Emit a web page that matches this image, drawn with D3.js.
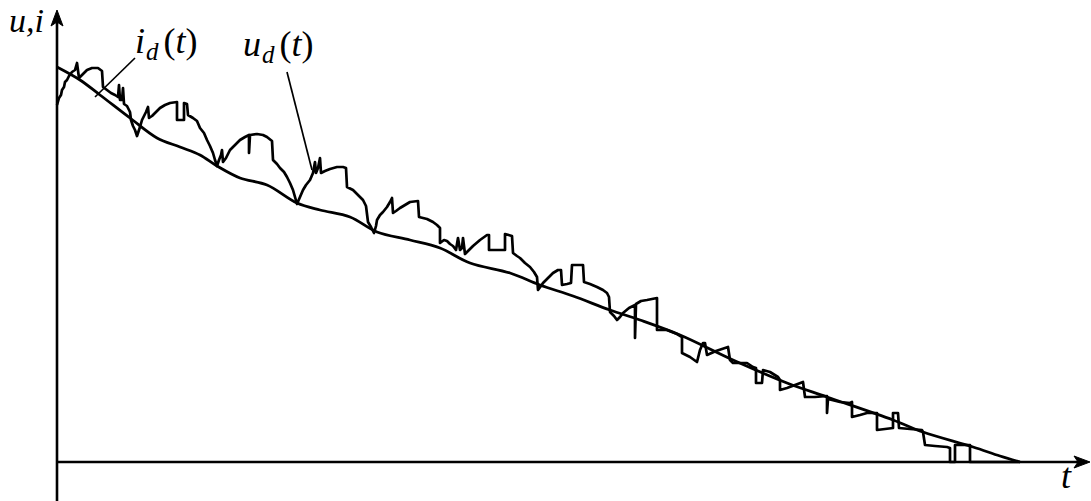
<!DOCTYPE html>
<html><head><meta charset="utf-8">
<script src="https://cdn.jsdelivr.net/npm/d3@7"></script>
<style>html,body{margin:0;padding:0;background:#fff;}svg{display:block;}</style>
</head><body>
<svg id="c" width="1091" height="501"></svg>
<script>
// i_d(t) samples (time units, current units)
const iT = [0,23,43,73,100,123,143,160,183,210,240,263,293,320,353,383,413,453,483,516,553,583,623,676,730,770,836,866,916,943,963];
const iV = [395,382,367,344,324,315,307,296,284,277,259,252,245,230,222,214,199,189,177,166,152,142,127,102,79,65,42,30,15,6,0];
// u_d(t) samples
const uT = [0,2,4,5,7,8,10,12,15,18,20,22,26,30,35,41,45,46,50,54,58,61,62,63,65,66,67,70,73,74,76,78,80,
82,83,85,87,89,91,92,95,99,103,108,113,120,120,127,127,130,131,136,140,143,147,150,153,156,158,160,
162,164,165,166,169,173,178,183,188,192,192,193,200,206,210,215,216,220,223,227,230,233,236,238,240,
243,246,249,253,256,258,259,261,263,264,268,273,280,286,289,290,296,301,306,309,311,314,317,
319,320,323,326,330,333,335,336,339,343,348,353,361,362,370,376,380,383,383,387,390,393,396,399,401,403,405,406,408,412,416,423,430,432,432,448,448,455,456,460,463,468,473,477,480,481,
484,486,491,496,501,504,505,510,514,515,526,527,533,540,546,550,552,553,557,560,563,566,572,578,578,579,584,590,600,600,610,615,620,625,625,633,640,643,646,648,650,659,671,673,676,690,696,699,699,705,706,713,721,723,723,730,738,746,748,758,770,770,771,783,793,795,795,803,810,820,820,828,836,836,841,842,853,865,866,868,878,890,893,893,898,898,905,913,913,963];
const uV = [357,364,367,372,375,380,382,386,390,392,399,384,388,392,394,394,391,375,372,369,367,365,377,362,362,374,358,356,350,342,336,332,326,
332,335,342,346,350,355,344,346,350,354,357,359,360,342,342,359,358,347,344,341,334,329,322,316,309,302,296,
302,307,312,300,304,312,317,322,325,327,309,327,328,327,325,321,302,298,294,290,285,279,272,265,258,
265,272,277,282,289,300,289,294,304,289,291,293,295,295,294,275,272,267,262,256,240,235,229,
236,242,247,250,255,260,264,249,251,254,257,260,261,245,243,240,237,234,219,222,221,218,216,212,224,212,214,224,208,212,216,222,227,227,212,212,228,226,209,206,204,199,195,190,185,172,
176,179,184,189,192,192,177,178,179,197,197,180,178,175,172,169,165,150,146,142,145,149,154,157,124,158,161,162,164,132,132,130,128,125,109,105,100,112,119,119,107,111,115,102,99,99,95,94,79,79,92,90,85,82,72,74,77,80,65,65,66,49,63,60,59,60,45,47,49,49,32,33,34,49,49,34,33,32,30,17,16,15,14,0,0,17,17,17,0,0];

const svg = d3.select("#c");
const x = d3.scaleLinear().domain([0,1000]).range([57,1057]);
const y = d3.scaleLinear().domain([0,450]).range([462,12]);

// axes
svg.append("line").attr("x1",x(0)).attr("x2",x(0)).attr("y1",501).attr("y2",y(445))
  .attr("stroke","#000").attr("stroke-width",2.6);
svg.append("line").attr("x1",x(0)).attr("x2",x(1025)).attr("y1",y(0)).attr("y2",y(0))
  .attr("stroke","#000").attr("stroke-width",2.6);
// arrow heads
const ax = x(0), ay = y(452);
svg.append("path").attr("d",`M${ax},${ay} L${ax-6},${ay+16} L${ax},${ay+12} L${ax+6},${ay+16} Z`).attr("fill","#000").attr("stroke","#000").attr("stroke-width",1);
const bx = x(1033), by = y(0);
svg.append("path").attr("d",`M${bx},${by} L${bx-16},${by-6} L${bx-12},${by} L${bx-16},${by+6} Z`).attr("fill","#000").attr("stroke","#000").attr("stroke-width",1);

const iData = iT.map((t,k)=>[t,iV[k]]);
const uData = uT.map((t,k)=>[t,uV[k]]);
svg.append("path").datum(iData).attr("d",d3.line().x(d=>x(d[0])).y(d=>y(d[1])).curve(d3.curveCatmullRom)).attr("fill","none")
  .attr("stroke","#000").attr("stroke-width",2.8).attr("stroke-linejoin","round");
svg.append("path").datum(uData).attr("d",d3.line().x(d=>x(d[0])).y(d=>y(d[1]))).attr("fill","none")
  .attr("stroke","#000").attr("stroke-width",2.7).attr("stroke-linejoin","round");

// leader lines
svg.append("line").attr("x1",x(78)).attr("y1",y(404)).attr("x2",x(38)).attr("y2",y(365)).attr("stroke","#000").attr("stroke-width",1.7);
svg.append("line").attr("x1",x(230)).attr("y1",y(390)).attr("x2",x(255)).attr("y2",y(292)).attr("stroke","#000").attr("stroke-width",1.7);

const F = "Liberation Serif, Times New Roman, serif";
function lab(px, py, main, sub){
  const t = svg.append("text").attr("x",px).attr("y",py).attr("font-family",F).attr("font-size",36).attr("fill","#000");
  t.append("tspan").attr("font-style","italic").text(main);
  t.append("tspan").attr("font-style","italic").attr("font-size",25).attr("dy",7).attr("dx",1).text(sub);
  t.append("tspan").attr("dy",-7).attr("dx",5).text("(");
  t.append("tspan").attr("font-style","italic").text("t");
  t.append("tspan").text(")");
  return t;
}
svg.append("text").attr("x",9).attr("y",32).attr("font-family",F).attr("font-size",34).attr("font-style","italic").text("u,i");
lab(135,53,"i","d");
lab(243,56,"u","d");
svg.append("text").attr("x",1061).attr("y",488).attr("font-family",F).attr("font-size",36).attr("font-style","italic").text("t");
</script>
</body></html>
